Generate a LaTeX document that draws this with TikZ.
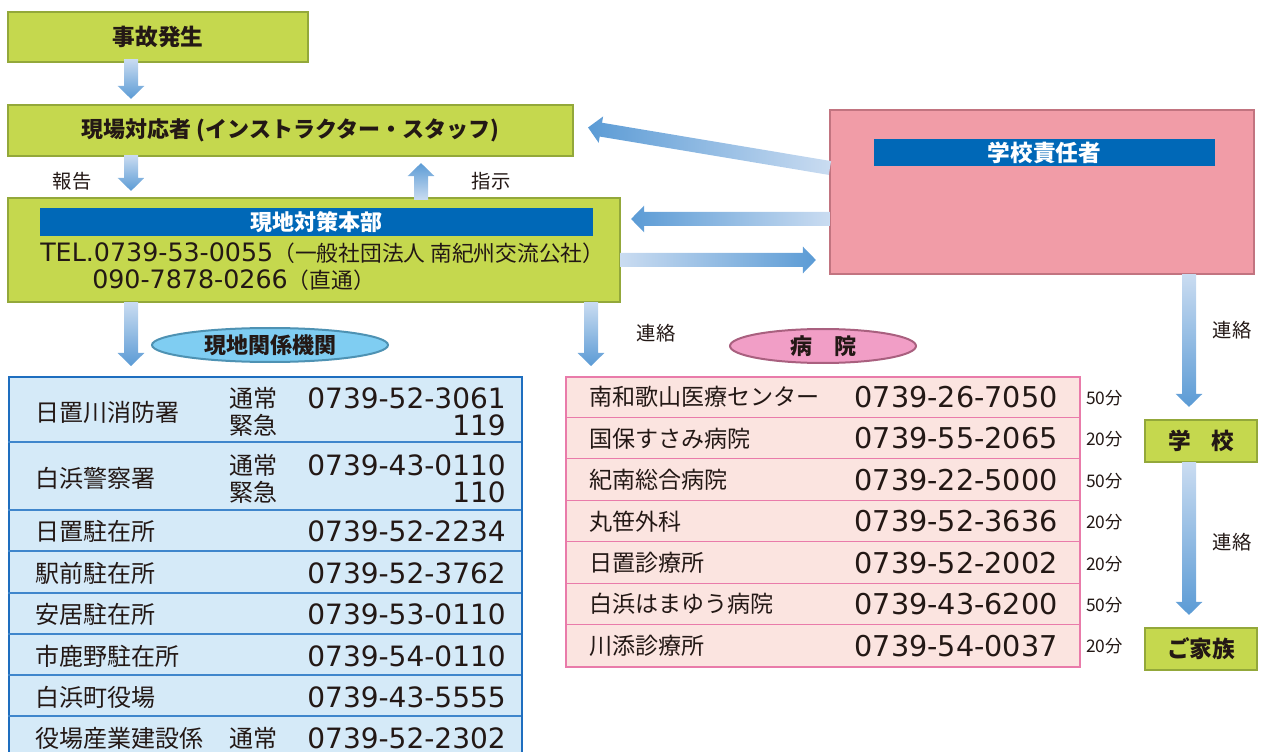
\documentclass[tikz,border=0pt]{standalone}
\usepackage{fontspec}
\setmainfont{Noto Sans CJK JP}
\newfontfamily\numf{DejaVu Sans}
\usetikzlibrary{calc,shapes.geometric}
\definecolor{gr}{HTML}{C5D84E}
\definecolor{grd}{HTML}{93A83A}
\definecolor{pk}{HTML}{F19CA7}
\definecolor{pkd}{HTML}{C27480}
\definecolor{bbar}{HTML}{0068B7}
\definecolor{ltf}{HTML}{D5EAF8}
\definecolor{ltb}{HTML}{1E6EBF}
\definecolor{lts}{HTML}{3F86CC}
\definecolor{rtf}{HTML}{FBE4E0}
\definecolor{rtb}{HTML}{E97BAA}
\definecolor{elb}{HTML}{7FCDF2}
\definecolor{elbd}{HTML}{4E92B3}
\definecolor{elp}{HTML}{F19EC6}
\definecolor{elpd}{HTML}{A9607F}
\definecolor{ab}{HTML}{5B9BD5}
\definecolor{al}{HTML}{CADCF1}
\definecolor{tx}{HTML}{231815}
\newcommand\blockarrow[3]{%
  \coordinate (hb) at ($(#3)!9.75pt!(#2)$);
  \path[#1] ($(#2)!5.25pt!90:(#3)$) -- ($(hb)!5.25pt!90:(#3)$) -- ($(hb)!10pt!90:(#3)$) -- (#3)
    -- ($(hb)!10pt!-90:(#3)$) -- ($(hb)!5.25pt!-90:(#3)$) -- ($(#2)!5.25pt!-90:(#3)$) -- cycle;}
\begin{document}
\begin{tikzpicture}[x=0.75pt,y=-0.75pt,
  every node/.style={text=tx, inner sep=0pt},
  greenbox/.style={fill=gr, draw=grd, line width=1.6pt, font=\bfseries\fontsize{16.5}{18}\selectfont},
  pinkbox/.style={fill=pk, draw=pkd, line width=1.6pt},
  bar/.style={fill=bbar, text=white, font=\bfseries\fontsize{16.5}{18}\selectfont},
  vdown/.style={top color=al, bottom color=ab},
  vup/.style={top color=ab, bottom color=al},
  hleft/.style={left color=ab, right color=al},
  hright/.style={left color=al, right color=ab},
  lbl/.style={font=\fontsize{14.5}{16}\selectfont},
  lname/.style={anchor=west, font=\fontsize{18}{20}\selectfont},
  lnum/.style={anchor=east, font=\numf\fontsize{21}{24}\selectfont},
  rname/.style={anchor=west, font=\fontsize{17.3}{19}\selectfont},
  rnum/.style={anchor=east, font=\numf\fontsize{21.5}{24}\selectfont},
  rmin/.style={anchor=west, font=\fontsize{13}{14}\selectfont},
  ell/.style={ellipse, line width=1.5pt, font=\bfseries\fontsize{16.5}{18}\selectfont},
]
\useasboundingbox (0,0) rectangle (1264,752);
\coordinate (xa) at (131,0);
\coordinate (xb) at (421,0);
\coordinate (xc) at (591,0);
\coordinate (xd) at (1189,0);

% boxes
\node[greenbox, minimum width=300*0.75pt, minimum height=50*0.75pt, font=\bfseries\fontsize{17}{18}\selectfont] (n1) at (158,37) {事故発生};
\node[greenbox, minimum width=565*0.75pt, minimum height=51*0.75pt] (n2) at (290.5,130.5) {現場対応者 (インストラクター・スタッフ)};
\node[greenbox, minimum width=612*0.75pt, minimum height=104*0.75pt] (n3) at (314,250) {};
\node[bar, minimum width=553*0.75pt, minimum height=28*0.75pt] (n3t) at (316.5,222) {現地対策本部};
\node[anchor=west, font=\fontsize{16.3}{18}\selectfont] (tel1) at (40,253) {{\numf\fontsize{19}{22}\selectfont TEL.0739-53-0055}（一般社団法人 南紀州交流公社）};
\node[anchor=west, font=\fontsize{16.3}{18}\selectfont] (tel2) at (92,280) {{\numf\fontsize{19}{22}\selectfont 090-7878-0266}（直通）};

\node[pinkbox, minimum width=424*0.75pt, minimum height=164*0.75pt] (n4) at (1042,192) {};
\node[bar, minimum width=341*0.75pt, minimum height=27*0.75pt, font=\bfseries\fontsize{17}{18}\selectfont] (n4t) at (1044.5,152.5) {学校責任者};

\node[greenbox, minimum width=112*0.75pt, minimum height=42*0.75pt, font=\bfseries\fontsize{17}{18}\selectfont] (n5) at (1201,441) {学\hspace{0.9em}校};
\node[greenbox, minimum width=112*0.75pt, minimum height=42*0.75pt, font=\bfseries\fontsize{17}{18}\selectfont] (n6) at (1201,649) {ご家族};

% ellipses
\node[ell, fill=elb, draw=elbd, minimum width=236*0.75pt, minimum height=34*0.75pt] (e1) at (270,345) {現地関係機関};
\node[ell, fill=elp, draw=elpd, minimum width=186*0.75pt, minimum height=34*0.75pt] (e2) at (823,346) {病\hspace{1em}院};

% left table
\node[fill=ltf, draw=ltb, line width=1.5pt, anchor=north west, minimum width=513*0.75pt, minimum height=400*0.75pt] (lt) at (8,376) {};
\foreach \yy in {442,510,551,593,634,675,716}{
  \draw[lts, line width=1pt] (8,\yy) -- (521,\yy);
}
\node[lname] (l1) at (35,412) {日置川消防署};
\node[lname] (l1a) at (229,398) {通常};
\node[lname] (l1b) at (229,425) {緊急};
\node[lnum] (l1c) at (506,398) {0739-52-3061};
\node[lnum] (l1d) at (506,425) {119};
\node[lname] (l2) at (35,478) {白浜警察署};
\node[lname] (l2a) at (229,465) {通常};
\node[lname] (l2b) at (229,492) {緊急};
\node[lnum] (l2c) at (506,465) {0739-43-0110};
\node[lnum] (l2d) at (506,492) {110};
\node[lname] (l3) at (35,531) {日置駐在所};
\node[lnum] (l3c) at (506,531) {0739-52-2234};
\node[lname] (l4) at (35,573) {駅前駐在所};
\node[lnum] (l4c) at (506,573) {0739-52-3762};
\node[lname] (l5) at (35,614) {安居駐在所};
\node[lnum] (l5c) at (506,614) {0739-53-0110};
\node[lname] (l6) at (35,656) {市鹿野駐在所};
\node[lnum] (l6c) at (506,656) {0739-54-0110};
\node[lname] (l7) at (35,697) {白浜町役場};
\node[lnum] (l7c) at (506,697) {0739-43-5555};
\node[lname] (l8) at (35,738) {役場産業建設係};
\node[lname] (l8a) at (229,738) {通常};
\node[lnum] (l8c) at (506,738) {0739-52-2302};

% right table
\node[fill=rtf, draw=rtb, line width=1.5pt, anchor=north west, minimum width=514*0.75pt, minimum height=290*0.75pt] (rt) at (565,376) {};
\foreach \k in {1,...,6}{
  \draw[rtb, line width=0.9pt] (565,376+\k*41.43) -- (1079,376+\k*41.43);
}
\foreach \nm/\nu/\mi [count=\k from 0] in {南和歌山医療センター/0739-26-7050/50分,国保すさみ病院/0739-55-2065/20分,紀南総合病院/0739-22-5000/50分,丸笹外科/0739-52-3636/20分,日置診療所/0739-52-2002/20分,白浜はまゆう病院/0739-43-6200/50分,川添診療所/0739-54-0037/20分}{
  \node[rname] (r\k) at (589,397+\k*41.43) {\nm};
  \node[rnum] (rn\k) at (1058,397+\k*41.43) {\nu};
  \node[rmin] (rm\k) at (1086,398+\k*41.43) {\mi};
}

% arrows
\coordinate (a1s) at ($(n1.south -| xa)+(0,-4)$);
\coordinate (a1e) at ($(n2.north -| xa)+(0,-5)$);
\blockarrow{vdown}{a1s}{a1e}
\coordinate (a2s) at ($(n2.south -| xa)+(0,-2)$);
\coordinate (a2e) at ($(n3.north -| xa)+(0,-6)$);
\blockarrow{vdown}{a2s}{a2e}
\coordinate (a3s) at ($(n3.north -| xb)+(0,3)$);
\coordinate (a3e) at ($(n2.south -| xb)+(0,6)$);
\blockarrow{vup}{a3s}{a3e}
\coordinate (a4s) at ($(n4.west)+(1,-24)$);
\coordinate (a4e) at ($(n2.east)+(14,-3)$);
\blockarrow{hleft}{a4s}{a4e}
\coordinate (a5s) at ($(n4.west)+(1,27)$);
\coordinate (a5e) at ($(n3.east)+(10,-31)$);
\blockarrow{hleft}{a5s}{a5e}
\coordinate (a6s) at ($(n3.east)+(-1,10)$);
\coordinate (a6e) at ($(n4.west)+(-13,68)$);
\blockarrow{hright}{a6s}{a6e}
\coordinate (a7s) at ($(n3.south -| xa)+(0,-1)$);
\coordinate (a7e) at ($(lt.north -| xa)+(0,-10)$);
\blockarrow{vdown}{a7s}{a7e}
\coordinate (a8s) at ($(n3.south -| xc)+(0,-1)$);
\coordinate (a8e) at ($(rt.north -| xc)+(0,-10)$);
\blockarrow{vdown}{a8s}{a8e}
\coordinate (a9s) at ($(n4.south -| xd)+(0,-1)$);
\coordinate (a9e) at ($(n5.north -| xd)+(0,-12)$);
\blockarrow{vdown}{a9s}{a9e}
\coordinate (a10s) at ($(n5.south -| xd)+(0,-1)$);
\coordinate (a10e) at ($(n6.north -| xd)+(0,-12)$);
\blockarrow{vdown}{a10s}{a10e}

% labels
\node[lbl] (t1) at (72,181) {報告};
\node[lbl] (t2) at (491,181) {指示};
\node[lbl] (t3) at (656,333) {連絡};
\node[lbl] (t4) at (1232,330) {連絡};
\node[lbl] (t5) at (1232,542) {連絡};
\end{tikzpicture}
\end{document}
